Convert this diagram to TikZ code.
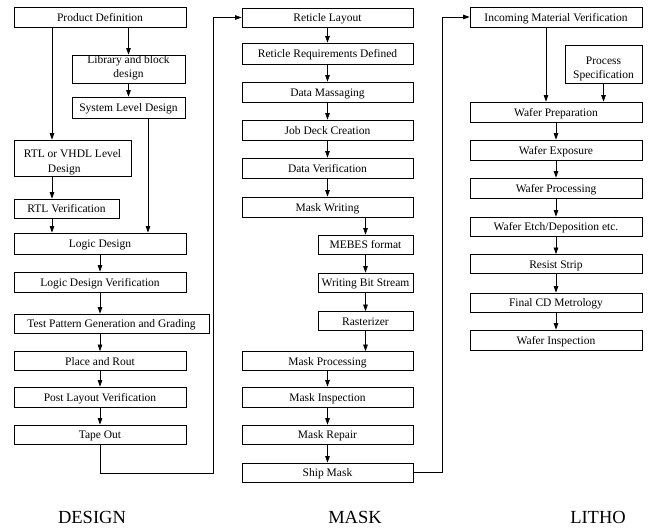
\documentclass[tikz,border=0pt]{standalone}
\usepackage{fontspec}
\setmainfont{Liberation Serif}
\usetikzlibrary{arrows.meta}

\begin{document}
\begin{tikzpicture}[x=1pt,y=-1pt,line width=0.7pt,
    box/.style={draw,minimum height=19pt,inner sep=1pt,align=center,
      text height=8.4pt,text depth=0pt,font=\fontsize{11.5}{14}\selectfont},
    wide/.style={box,minimum width=172pt},
    arr/.style={-{Triangle[length=6.5pt,width=4.5pt]}},
    title/.style={font=\fontsize{18.5}{20}\selectfont}]
  \useasboundingbox (0,0) rectangle (651,529);
  % DESIGN
  \node[wide,minimum height=20pt] (pd) at (100,17) {Product Definition};
  \node[box,minimum width=113pt,minimum height=28pt,text height=18pt] (lib) at (128.5,69) {Library and block\\design};
  \node[box,minimum width=113pt,minimum height=21pt] (sld) at (128.5,107.5) {System Level Design};
  \node[box,minimum width=117pt,minimum height=36pt,text height=30pt,align=left] (rtl) at (72.5,158) {RTL or VHDL Level\\[1pt]\hspace{2.1em}Design};
  \node[box,minimum width=105pt] (rtlv) at (66.5,208.5) {RTL Verification};
  \node[wide,minimum height=21pt] (logic) at (100,243.5) {Logic Design};
  \node[wide,minimum height=20pt] (ldv) at (100,282) {Logic Design Verification};
  \node[box,minimum width=195pt] (tpg) at (111.5,323.5) {Test Pattern Generation and Grading};
  \node[wide] (par) at (100,361) {Place and Rout};
  \node[wide,minimum height=20pt] (plv) at (100,397) {Post Layout Verification};
  \node[wide] (tape) at (100,434.5) {Tape Out};
  % MASK
  \node[wide,minimum width=171pt] (ret) at (327.5,17.5) {Reticle Layout};
  \node[wide,minimum width=171pt,minimum height=21pt] (rrd) at (327.5,53.5) {Reticle Requirements Defined};
  \node[wide,minimum width=171pt,minimum height=20pt] (dm) at (327.5,92) {Data Massaging};
  \node[wide,minimum width=171pt,minimum height=20pt] (jdc) at (327.5,130) {Job Deck Creation};
  \node[wide,minimum width=171pt,minimum height=20pt] (dv) at (327.5,168) {Data Verification};
  \node[wide,minimum width=171pt,minimum height=20pt] (mw) at (327.5,207) {Mask Writing};
  \node[box,minimum width=95pt] (mebes) at (365.5,244.5) {MEBES format};
  \node[box,minimum width=95pt] (wbs) at (365.5,282.5) {Writing Bit Stream};
  \node[box,minimum width=95pt] (ras) at (365.5,321) {Rasterizer};
  \node[wide,minimum width=171pt] (mp) at (327.5,361) {Mask Processing};
  \node[wide,minimum width=171pt,minimum height=20pt] (mi) at (327.5,397) {Mask Inspection};
  \node[wide,minimum width=171pt] (mr) at (327.5,434.5) {Mask Repair};
  \node[wide,minimum width=171pt] (ship) at (327.5,472.5) {Ship Mask};
  % LITHO
  \node[wide,minimum height=20pt] (imv) at (556,17) {Incoming Material Verification};
  \node[box,minimum width=77pt,minimum height=38pt,text height=29pt] (ps) at (603.5,64) {Process\\Specification};
  \node[wide,minimum height=20pt] (wprep) at (556,112) {Wafer Preparation};
  \node[wide,minimum height=20pt] (wexp) at (556,150) {Wafer Exposure};
  \node[wide,minimum height=20pt] (wproc) at (556,188) {Wafer Processing};
  \node[wide] (wetch) at (556,226.5) {Wafer Etch/Deposition etc.};
  \node[wide] (rs) at (556,264) {Resist Strip};
  \node[wide] (fcd) at (556,302.5) {Final CD Metrology};
  \node[wide,minimum height=20pt] (wi) at (556,340) {Wafer Inspection};
  % titles
  \node[title] (design) at (92,517) {DESIGN};
  \node[title] (mask) at (355,517) {MASK};
  \node[title] (litho) at (598,517) {LITHO};

  \coordinate (cl) at (52,0);
  \coordinate (cr) at (148,0);
  \coordinate (cm) at (546,0);
  \coordinate (b1) at (213,473);
  \coordinate (b2) at (442,473);

  \foreach \a/\b in {lib/sld,logic/ldv,ldv/tpg,par/plv,plv/tape,
      ret/rrd,rrd/dm,dm/jdc,jdc/dv,dv/mw,mebes/wbs,wbs/ras,ras/mp,mp/mi,mi/mr,mr/ship,
      ps/wprep,wprep/wexp,wexp/wproc,wproc/wetch,wetch/rs,rs/fcd,fcd/wi}
    \draw[arr] (\a.south) -- (\a.south |- \b.north);
  \foreach \a/\b in {pd/lib,tpg/par,mw/mebes}
    \draw[arr] (\a.south -| \b.north) -- (\b.north);
  \draw[arr] (pd.south -| cl) -- (rtl.north -| cl);
  \draw[arr] (rtl.south -| cl) -- (rtlv.north -| cl);
  \draw[arr] (rtlv.south -| cl) -- (logic.north -| cl);
  \draw[arr] (sld.south -| cr) -- (logic.north -| cr);
  \draw[arr] (imv.south -| cm) -- (wprep.north -| cm);
  \draw[arr] (tape.south) |- (b1) |- (ret.west);
  \draw[arr] (ship.east) -- (ship.east -| b2) -- (b2 |- imv.west) -- (imv.west);
\end{tikzpicture}
\end{document}
